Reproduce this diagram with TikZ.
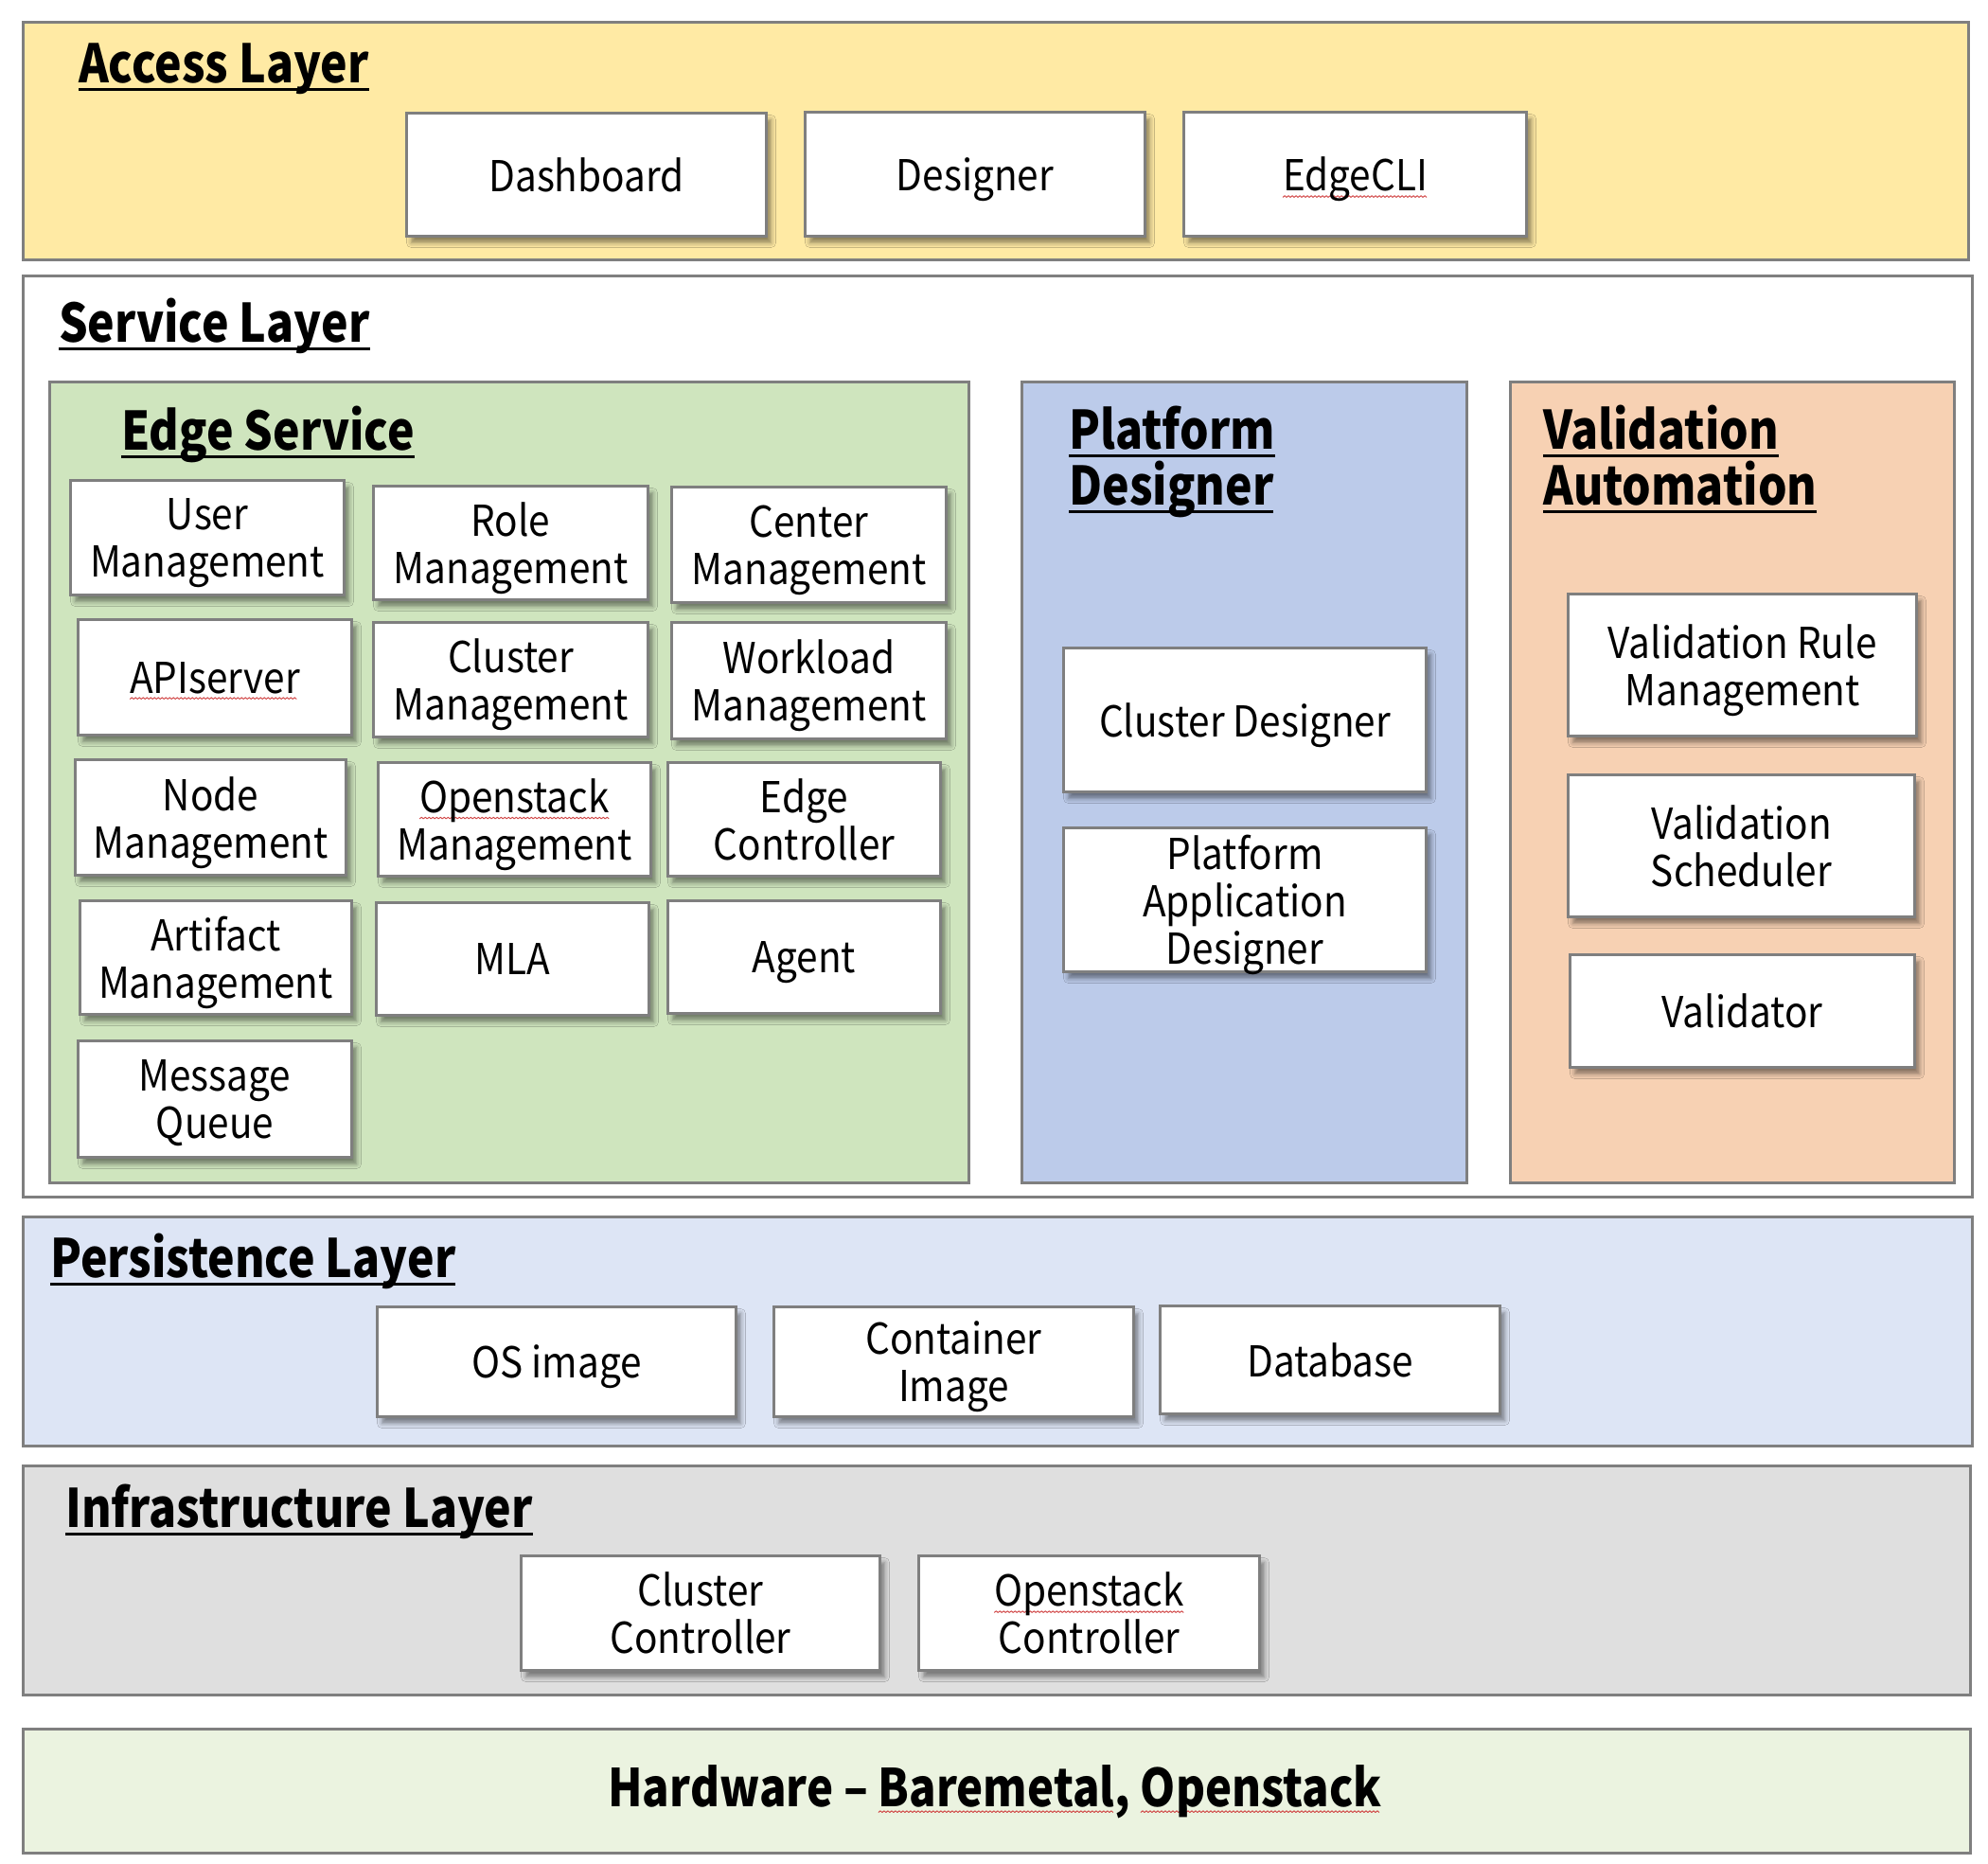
\documentclass[tikz,border=0pt]{standalone}
\usepackage{fontspec}
\setmainfont{Noto Sans CJK KR}[UprightFeatures={FakeStretch=0.9}, BoldFeatures={FakeStretch=0.86}]
\usetikzlibrary{shadows.blur}
\definecolor{bordergray}{HTML}{7F7F7F}
\definecolor{accessc}{HTML}{FFEAA4}
\definecolor{greenc}{HTML}{CFE5BE}
\definecolor{bluec}{HTML}{BCCBEA}
\definecolor{orangec}{HTML}{F7D1B3}
\definecolor{persc}{HTML}{DDE5F5}
\definecolor{infrac}{HTML}{DFDFDF}
\definecolor{hwc}{HTML}{EBF3E0}
\definecolor{splred}{HTML}{D04040}
\newsavebox\ttlbox
\newsavebox\splbox
\newcommand\ttl[1]{\sbox\ttlbox{#1}\rlap{\rule[-8.5pt]{\wd\ttlbox}{3pt}}\usebox\ttlbox}
\newcommand\wavemark{\tikz[baseline=0pt,x=1pt,y=1pt]{\path[use as bounding box] (0,0) rectangle (4,0.1);\draw[splred,line width=0.9pt,line join=round] (0,-6.5)--(2,-4.8)--(4,-6.5);}}
\newcommand\spl[1]{\sbox\splbox{#1}\rlap{\hbox to \wd\splbox{\leaders\hbox{\wavemark}\hfill}}\usebox\splbox}
% last line of a box text: keep its height, drop its depth
\newcommand\nd[1]{\raisebox{0pt}[\height][0pt]{#1}}
\tikzset{
  layer/.style={draw=bordergray, line width=3pt, anchor=north west, inner sep=0pt},
  box/.style={draw=bordergray, line width=3pt, fill=white, anchor=north west, inner sep=0pt,
    align=center, font=\fontsize{45}{50}\selectfont,
    blur shadow={shadow xshift=5pt, shadow yshift=-7pt, shadow blur radius=5pt, shadow opacity=45}},
  ttlstyle/.style={inner sep=0pt, anchor=base west, font=\fontsize{56}{60}\selectfont\bfseries},
}
\newcommand\lay[6]{\node[layer, fill=#6, minimum width={(#4-#2)*1pt}, minimum height={(#5-#3)*1pt}] (#1) at (#2,#3) {};}
\newcommand\bx[6]{\node[box, minimum width={(#4-#2)*1pt}, minimum height={(#5-#3)*1pt}] (#1) at (#2,#3) {#6};}
\begin{document}
\begin{tikzpicture}[x=1pt,y=-1pt]
\useasboundingbox (0,0) rectangle (2100,1968);
\fill[white] (0,0) rectangle (2100,1968);
% layers
\lay{access}{23}{22}{2078}{273}{accessc}
\lay{service}{23}{290}{2082}{1263}{white}
\lay{edge}{51}{402}{1022}{1248}{greenc}
\lay{platform}{1078}{402}{1548}{1248}{bluec}
\lay{valid}{1594}{402}{2063}{1248}{orangec}
\lay{persist}{23}{1284}{2082}{1526}{persc}
\lay{infra}{23}{1547}{2080}{1789}{infrac}
\lay{hw}{23}{1825}{2080}{1956}{hwc}
% titles
\node[ttlstyle] (tAccess) at (83,87) {\ttl{Access Layer}};
\node[ttlstyle] (tService) at (62,361) {\ttl{Service Layer}};
\node[ttlstyle] (tEdge) at (128,475) {\ttl{Edge Service}};
\node[ttlstyle] (tPlat1) at (1129,474) {\ttl{Platform}};
\node[ttlstyle] (tPlat2) at (1129,533) {\ttl{Designer}};
\node[ttlstyle] (tVal1) at (1630,474) {\ttl{Validation}};
\node[ttlstyle] (tVal2) at (1630,533) {\ttl{Automation}};
\node[ttlstyle] (tPers) at (53,1349) {\ttl{Persistence Layer}};
\node[ttlstyle] (tInfra) at (69,1613) {\ttl{Infrastructure Layer}};
\node[inner sep=0pt, anchor=base, font=\fontsize{55}{58}\selectfont\bfseries] (tHw) at (1051,1908) {Hardware -- \spl{Baremetal}, \spl{Openstack}};
% access boxes
\bx{dash}{428}{118}{808}{248}{\nd{Dashboard}}
\bx{desg}{849}{117}{1208}{248}{\nd{Designer}}
\bx{cli}{1249}{117}{1611}{248}{\nd{\spl{EdgeCLI}}}
% edge service boxes
\bx{user}{73}{506}{362}{627}{User\\\nd{Management}}
\bx{role}{393}{512}{683}{632}{Role\\\nd{Management}}
\bx{center}{708}{513}{998}{635}{Center\\\nd{Management}}
\bx{api}{81}{653}{370}{775}{\nd{\spl{APIserver}}}
\bx{cluster}{393}{656}{683}{777}{Cluster\\\nd{Management}}
\bx{workload}{708}{656}{998}{779}{Workload\\\nd{Management}}
\bx{nodem}{78}{801}{364}{923}{Node\\\nd{Management}}
\bx{ostack}{398}{804}{686}{924}{\spl{Openstack}\\\nd{Management}}
\bx{ectl}{704}{804}{992}{924}{Edge\\\nd{Controller}}
\bx{artifact}{83}{950}{370}{1070}{Artifact\\\nd{Management}}
\bx{mla}{396}{952}{684}{1071}{\nd{MLA}}
\bx{agent}{704}{950}{992}{1069}{\nd{Agent}}
\bx{mq}{81}{1098}{370}{1221}{Message\\\nd{Queue}}
% platform designer
\bx{cd}{1122}{683}{1505}{835}{\nd{Cluster Designer}}
\bx{pad}{1122}{873}{1505}{1025}{Platform\\Application\\\nd{Designer}}
% validation automation
\bx{vrm}{1655}{626}{2023}{776}{Validation Rule\\\nd{Management}}
\bx{vs}{1655}{817}{2021}{967}{Validation\\\nd{Scheduler}}
\bx{vd}{1657}{1007}{2021}{1126}{\nd{Validator}}
% persistence
\bx{os}{397}{1379}{776}{1495}{\nd{OS image}}
\bx{ci}{816}{1379}{1196}{1495}{Container\\\nd{Image}}
\bx{db}{1224}{1378}{1583}{1492}{\nd{Database}}
% infrastructure
\bx{cc}{549}{1642}{928}{1763}{Cluster\\\nd{Controller}}
\bx{oc}{969}{1642}{1329}{1763}{\spl{Openstack}\\\nd{Controller}}
\end{tikzpicture}
\end{document}
